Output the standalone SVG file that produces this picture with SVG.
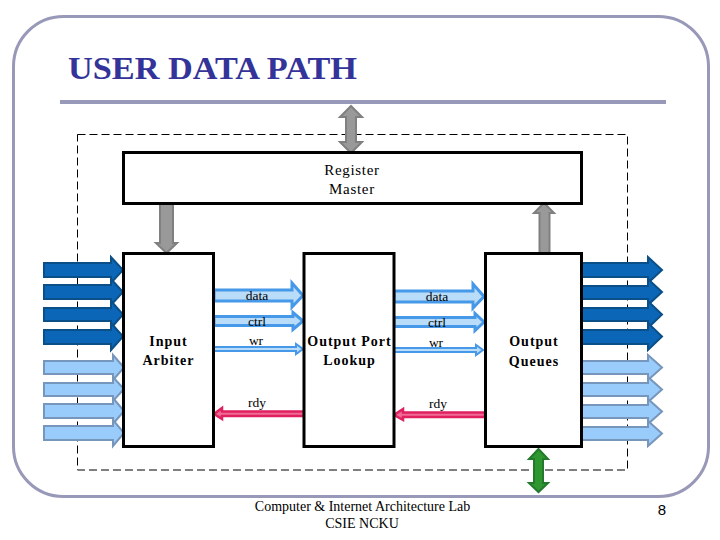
<svg xmlns="http://www.w3.org/2000/svg" width="720" height="540" viewBox="0 0 720 540">
<style>
text{font-family:"Liberation Serif","Times New Roman",serif;font-size:14px;fill:#000;text-anchor:middle}
.node{font-weight:bold;letter-spacing:1px}
.reg{font-size:15px;letter-spacing:.7px}
.lbl{font-size:13.500px}
.box{fill:#fff;stroke:#000;stroke-width:3}
.dark{fill:#0b66b8;stroke:#0a4f88;stroke-width:2}
.light{fill:#9accfb;stroke:#7696bb;stroke-width:2}
.mid{fill:#b9dcf8;stroke:#4698e8;stroke-width:3}
.thin{fill:#b9dcf8;stroke:#4698e8;stroke-width:2}
.gray{fill:#999;stroke:#808080;stroke-width:2}
.pink{fill:#f06a96;stroke:#e0205f;stroke-width:2.500}
.green{fill:#2f972f;stroke:#237a2c;stroke-width:2}
</style>
<rect width="720" height="540" fill="#fff"/>
<g id="frame" fill="none" stroke="#9898b8">
<rect x="13.500" y="16.500" width="695" height="480" rx="50" ry="50" stroke-width="3"/>
<line x1="60" y1="102" x2="666" y2="102" stroke-width="4"/>
<rect x="77.500" y="134.500" width="550" height="335.500" stroke="#000" stroke-width="1" stroke-dasharray="8 4"/>
</g>
<text x="212.500" y="79" style="font-size:32px;font-weight:bold;fill:#333399" textLength="289" lengthAdjust="spacingAndGlyphs">USER DATA PATH</text>
<g id="connectors">
<polygon class="gray" points="351,106 362,117 356,117 356,142 362,142 351,153 340,142 346,142 346,117 340,117"/>
<polygon class="gray" points="160,203 173,203 173,243 177,243 166.500,253 156,243 160,243"/>
<polygon class="gray" points="544,203 554,213 549.500,213 549.500,253 539.500,253 539.500,213 534,213"/>
<polygon class="green" points="538.500,449 548,459 543,459 543,483 548,483 538.500,492 529,483 534,483 534,459 529,459"/>
<g id="input-dark">
<polygon class="dark" points="44,263 111,263 111,257 123,270 111,283 111,277 44,277"/>
<polygon class="dark" points="44,285 111,285 111,279 123,292 111,305 111,299 44,299"/>
<polygon class="dark" points="44,308 111,308 111,301 123,314.500 111,328 111,321 44,321"/>
<polygon class="dark" points="44,330 111,330 111,323 123,336.500 111,350 111,344 44,344"/>
</g>
<g id="input-light">
<polygon class="light" points="44,361 113,361 113,355 124,367.500 113,380 113,374 44,374"/>
<polygon class="light" points="44,383 113,383 113,377 124,389 113,401 113,396 44,396"/>
<polygon class="light" points="44,404 113,404 113,398 124,411 113,424 113,418 44,418"/>
<polygon class="light" points="44,426 113,426 113,420 124,433 113,446 113,440 44,440"/>
</g>
<g id="output-dark">
<polygon class="dark" points="582,263 648,263 648,257 662,270 648,283 648,277 582,277"/>
<polygon class="dark" points="582,286 648,286 648,279 662,292 648,305 648,299 582,299"/>
<polygon class="dark" points="582,308 648,308 648,301 662,314.500 648,328 648,321 582,321"/>
<polygon class="dark" points="582,330 648,330 648,323 662,336.500 648,350 648,344 582,344"/>
</g>
<g id="output-light">
<polygon class="light" points="582,361 648,361 648,355 662,367.500 648,380 648,374 582,374"/>
<polygon class="light" points="582,383 648,383 648,377 662,389.500 648,402 648,396 582,396"/>
<polygon class="light" points="582,405 648,405 648,399 662,411.500 648,424 648,418 582,418"/>
<polygon class="light" points="582,427 648,427 648,421 662,433.500 648,446 648,440 582,440"/>
</g>
<polygon class="mid" points="214,290 292,290 292,283 303,295.500 292,307 292,301 214,301"/>
<polygon class="mid" points="214,316.500 293,316.500 293,312.500 303,321 293,329.500 293,325.500 214,325.500"/>
<polygon class="thin" points="214,347 296,347 296,344 303,349 296,354 296,351 214,351"/>
<polygon class="pink" points="304,411.500 222,411.500 222,408 214,414 222,419 222,416 304,416"/>
<polygon class="mid" points="394,291 473,291 473,284 484,296.500 473,308 473,302 394,302"/>
<polygon class="mid" points="394,317.500 475,317.500 475,313.500 484,322 475,330.500 475,326.500 394,326.500"/>
<polygon class="thin" points="394,348 476,348 476,345 483,350 476,355 476,352 394,352"/>
<polygon class="pink" points="485,412.500 403,412.500 403,409 394,415 403,420 403,417 485,417"/>
</g>
<g id="register-master"><rect class="box" x="123.500" y="152.500" width="458" height="51"/><text class="reg" x="352" y="175">Register</text><text class="reg" x="352" y="194">Master</text></g>
<g id="input-arbiter"><rect class="box" x="123.500" y="253.500" width="90" height="193"/><text class="node" x="168.500" y="346">Input</text><text class="node" x="168.500" y="365">Arbiter</text></g>
<g id="output-port-lookup"><rect class="box" x="304" y="253.500" width="90" height="193"/><text class="node" x="349.500" y="346">Output Port</text><text class="node" x="349.500" y="365">Lookup</text></g>
<g id="output-queues"><rect class="box" x="485.500" y="253.500" width="96" height="193"/><text class="node" x="534" y="346">Output</text><text class="node" x="534" y="366">Queues</text></g>
<g id="labels">
<text class="lbl" x="257" y="300">data</text>
<text class="lbl" x="257" y="326">ctrl</text>
<text class="lbl" x="256" y="345">wr</text>
<text class="lbl" x="257" y="407">rdy</text>
<text class="lbl" x="437" y="301">data</text>
<text class="lbl" x="437" y="327">ctrl</text>
<text class="lbl" x="436" y="347">wr</text>
<text class="lbl" x="438" y="408">rdy</text>
</g>
<text x="362.500" y="511">Computer &amp; Internet Architecture Lab</text>
<text x="362" y="528">CSIE NCKU</text>
<text x="662" y="515" style="font-family:'Liberation Sans',Arial,sans-serif;font-size:15px">8</text>
</svg>
